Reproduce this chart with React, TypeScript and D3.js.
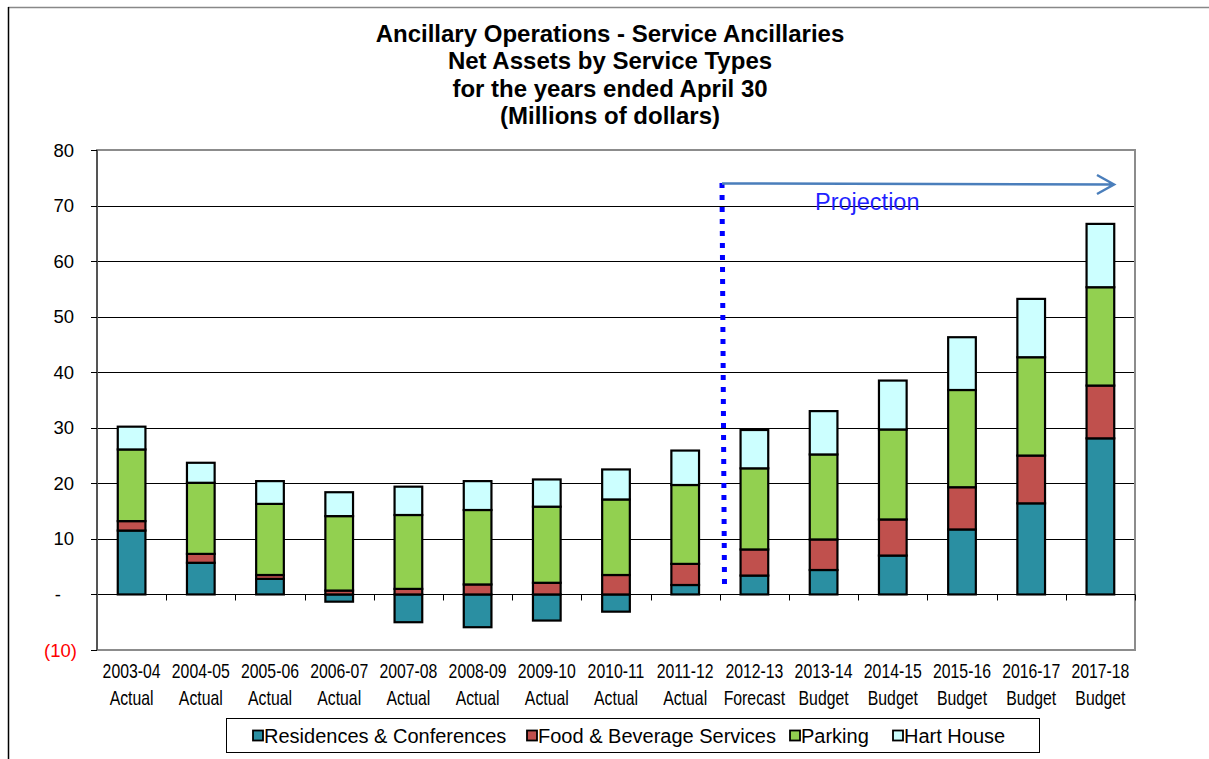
import { useRef, useEffect } from "react";
import * as d3 from "d3";

const years = [
  "2003-04", "2004-05", "2005-06", "2006-07", "2007-08", "2008-09", "2009-10", "2010-11",
  "2011-12", "2012-13", "2013-14", "2014-15", "2015-16", "2016-17", "2017-18",
];
const kinds = [
  "Actual", "Actual", "Actual", "Actual", "Actual", "Actual", "Actual", "Actual",
  "Actual", "Forecast", "Budget", "Budget", "Budget", "Budget", "Budget",
];
const seriesNames = ["Residences & Conferences", "Food & Beverage Services", "Parking", "Hart House"];
const residences = [11.5, 5.7, 2.8, -1.3, -5.0, -5.9, -4.7, -3.1, 1.7, 3.4, 4.4, 7.0, 11.7, 16.4, 28.1];
const food = [1.7, 1.6, 0.7, 0.7, 1.0, 1.8, 2.1, 3.5, 3.8, 4.7, 5.5, 6.5, 7.6, 8.6, 9.5];
const parking = [12.9, 12.8, 12.8, 13.4, 13.3, 13.4, 13.7, 13.6, 14.2, 14.6, 15.3, 16.2, 17.5, 17.7, 17.7];
const hartHouse = [4.1, 3.6, 4.1, 4.3, 5.1, 5.2, 4.9, 5.4, 6.2, 6.9, 7.8, 8.8, 9.5, 10.5, 11.4];
const colors = ["#2a8fa2", "#c0504d", "#92d050", "#ccffff"];
const yTicks = [-10, 0, 10, 20, 30, 40, 50, 60, 70, 80];
const titleLines = [
  "Ancillary Operations - Service Ancillaries",
  "Net Assets by Service Types",
  "for the years ended April 30",
  "(Millions of dollars)",
];

const W = 1209;
const H = 759;

function fmtTick(v: number) {
  if (v === 0) return "-";
  if (v < 0) return `(${Math.abs(v)})`;
  return String(v);
}

function NetAssetsChart() {
  const svgRef = useRef<SVGSVGElement>(null);

  useEffect(() => {
    drawChart();
  }, []);

  function drawChart() {
    if (!svgRef.current) return;
    const svg = d3.select(svgRef.current);
    svg.selectAll("*").remove();

    const left = 97, right = 1135, top = 150, bottom = 650;
    const font = "Arial, 'Liberation Sans', sans-serif";

    svg.append("rect").attr("width", W).attr("height", H).attr("fill", "#fff");
    // outer chart frame (only top and left edges are inside the picture)
    svg.append("line")
      .attr("x1", 8).attr("x2", W).attr("y1", 7.5).attr("y2", 7.5)
      .attr("stroke", "#888").attr("stroke-width", 1.5);
    svg.append("line")
      .attr("x1", 8.5).attr("x2", 8.5).attr("y1", 7).attr("y2", H)
      .attr("stroke", "#000").attr("stroke-width", 1.5);

    // title
    svg.append("g")
      .selectAll("text")
      .data(titleLines)
      .join("text")
      .attr("x", 610)
      .attr("y", (_, i) => 42 + i * 27.3)
      .attr("text-anchor", "middle")
      .attr("font-family", font)
      .attr("font-weight", "bold")
      .attr("font-size", 24)
      .text((d) => d);

    const x = d3.scaleBand().domain(years).range([left, right]).paddingInner(0.6).paddingOuter(0.3);
    const y = d3.scaleLinear().domain([-10, 80]).range([bottom, top]);

    // gridlines
    svg.append("g")
      .selectAll("line")
      .data(yTicks.filter((t) => t > 0 && t < 80))
      .join("line")
      .attr("x1", left).attr("x2", right)
      .attr("y1", (d) => Math.round(y(d)) + 0.5).attr("y2", (d) => Math.round(y(d)) + 0.5)
      .attr("stroke", "#000").attr("stroke-width", 1);

    // plot border
    svg.append("rect")
      .attr("x", left).attr("y", top).attr("width", right - left).attr("height", bottom - top)
      .attr("fill", "none").attr("stroke", "#8c8c8c").attr("stroke-width", 2);

    // stacked bars
    const rows = years.map((yr, i) => ({
      year: yr,
      [seriesNames[0]]: residences[i],
      [seriesNames[1]]: food[i],
      [seriesNames[2]]: parking[i],
      [seriesNames[3]]: hartHouse[i],
    }));
    const stacked = d3.stack<any>().keys(seriesNames).offset(d3.stackOffsetDiverging)(rows);

    svg.append("g")
      .selectAll("g")
      .data(stacked)
      .join("g")
      .attr("fill", (_, i) => colors[i])
      .selectAll("rect")
      .data((d) => d)
      .join("rect")
      .attr("x", (d) => x(d.data.year)!)
      .attr("width", x.bandwidth())
      .attr("y", (d) => y(Math.max(d[0], d[1])))
      .attr("height", (d) => Math.abs(y(d[0]) - y(d[1])))
      .attr("stroke", "#000")
      .attr("stroke-width", 2.2);

    // zero axis with ticks between categories
    const y0 = Math.round(y(0)) + 0.5;
    svg.append("line")
      .attr("x1", left).attr("x2", right).attr("y1", y0).attr("y2", y0)
      .attr("stroke", "#000").attr("stroke-width", 1);
    svg.append("g")
      .selectAll("line")
      .data(d3.range(1, years.length + 1))
      .join("line")
      .attr("x1", (i) => Math.round(left + i * x.step()) + 0.5)
      .attr("x2", (i) => Math.round(left + i * x.step()) + 0.5)
      .attr("y1", y0).attr("y2", y0 + 6)
      .attr("stroke", "#000");

    // y axis
    svg.append("line")
      .attr("x1", left).attr("x2", left).attr("y1", top).attr("y2", bottom)
      .attr("stroke", "#555").attr("stroke-width", 2);
    svg.append("g")
      .selectAll("line")
      .data(yTicks)
      .join("line")
      .attr("x1", left - 6).attr("x2", left)
      .attr("y1", (d) => Math.round(y(d)) + 0.5).attr("y2", (d) => Math.round(y(d)) + 0.5)
      .attr("stroke", "#000");
    svg.append("g")
      .selectAll("text")
      .data(yTicks)
      .join("text")
      .attr("x", (d) => (d === 0 ? 61 : d < 0 ? 77 : 74))
      .attr("y", (d) => y(d) + 6.5)
      .attr("text-anchor", "end")
      .attr("font-family", font)
      .attr("font-size", 18.5)
      .attr("fill", (d) => (d < 0 ? "#ff0000" : "#000"))
      .text((d) => fmtTick(d));

    // x labels, condensed like a narrow face
    const xl = svg.append("g").attr("font-family", font).attr("font-size", 20).attr("text-anchor", "middle");
    xl.selectAll("text.yr")
      .data(years)
      .join("text")
      .attr("class", "yr")
      .attr("transform", (d) => `translate(${x(d)! + x.bandwidth() / 2},678) scale(0.79,1)`)
      .text((d) => d);
    xl.selectAll("text.kind")
      .data(years)
      .join("text")
      .attr("class", "kind")
      .attr("transform", (d) => `translate(${x(d)! + x.bandwidth() / 2},705) scale(0.79,1)`)
      .text((_, i) => kinds[i]);

    // projection marker
    svg.append("line")
      .attr("x1", 722).attr("x2", 724.5).attr("y1", 183).attr("y2", 586)
      .attr("stroke", "#0000ff").attr("stroke-width", 5).attr("stroke-dasharray", "5 7");
    svg.append("path")
      .attr("d", "M722,183.5 L1114,184.5 M1097,175 L1114,184.5 L1097,194")
      .attr("fill", "none").attr("stroke", "#4a7ebb").attr("stroke-width", 2.5);
    svg.append("text")
      .attr("x", 815).attr("y", 210)
      .attr("font-family", font).attr("font-size", 23.5).attr("fill", "#1f1fff")
      .text("Projection");

    // legend
    const lg = svg.append("g");
    lg.append("rect")
      .attr("x", 226.5).attr("y", 718.5).attr("width", 813).attr("height", 34)
      .attr("fill", "#fff").attr("stroke", "#000").attr("stroke-width", 1);
    const legendX = [253, 527, 790, 893];
    const items = lg.selectAll("g.item").data(seriesNames).join("g").attr("class", "item")
      .attr("transform", (_, i) => `translate(${legendX[i]},735.5)`);
    items.append("rect")
      .attr("x", 0).attr("y", -5).attr("width", 10).attr("height", 10)
      .attr("fill", (_, i) => colors[i]).attr("stroke", "#000").attr("stroke-width", 1.8);
    items.append("text")
      .attr("x", 11).attr("y", 7)
      .attr("font-family", font).attr("font-size", 20)
      .text((d) => d);
  }

  return (
    <svg
      ref={svgRef}
      width={W}
      height={H}
      style={{ position: "absolute", left: 0, top: 0 }}
    />
  );
}

export default function App() {
  return <NetAssetsChart />;
}
